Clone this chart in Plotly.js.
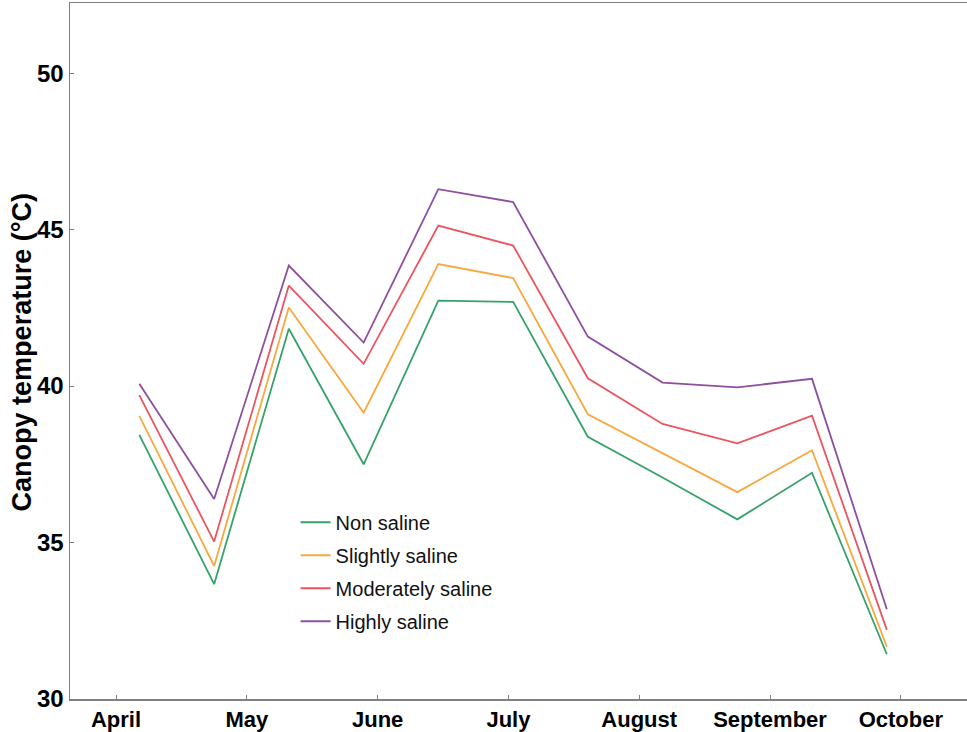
<!DOCTYPE html>
<html>
<head>
<meta charset="utf-8">
<script src="https://cdn.plot.ly/plotly-3.0.1.min.js"></script>
<style>html,body{margin:0;padding:0;background:#fff;}#chart{width:967px;height:732px;}</style>
</head>
<body>
<div id="chart"></div>
<script>
// Observation times, in months after the start of April
const obsMonths = [0.178, 0.750, 1.321, 1.893, 2.464, 3.036, 3.607, 4.178, 4.750, 5.321, 5.893];
const monthTicks = [0, 1, 2, 3, 4, 5, 6];
const monthLabels = ["April", "May", "June", "July", "August", "September", "October"];
const seriesNames = ["Non saline", "Slightly saline", "Moderately saline", "Highly saline"];
const nonSaline = [38.44, 33.67, 41.83, 37.50, 42.73, 42.69, 38.38, 37.08, 35.74, 37.23, 31.43];
const slightlySaline = [39.05, 34.25, 42.51, 39.15, 43.90, 43.45, 39.10, 37.85, 36.61, 37.95, 31.67];
const moderatelySaline = [39.71, 35.03, 43.21, 40.71, 45.13, 44.49, 40.25, 38.79, 38.17, 39.05, 32.21];
const highlySaline = [40.07, 36.39, 43.85, 41.39, 46.29, 45.88, 41.58, 40.11, 39.96, 40.23, 32.87];
const yTicks = [30, 35, 40, 45, 50];
const yTitle = "Canopy temperature (°C)";

const colors = ["#36a26a", "#f8a83f", "#ec5560", "#8f4f9f"];
const allSeries = [nonSaline, slightlySaline, moderatelySaline, highlySaline];

const traces = allSeries.map((vals, i) => ({
  x: obsMonths,
  y: vals,
  type: "scatter",
  mode: "lines",
  name: seriesNames[i],
  legendgroup: "g" + i,
  line: {color: colors[i], width: 1.8}
}));

const FONT = "Arial, 'Liberation Sans', sans-serif";

const layout = {
  width: 967,
  height: 732,
  margin: {l: 70, r: 0, t: 3, b: 33, pad: 0},
  paper_bgcolor: "#ffffff",
  plot_bgcolor: "#ffffff",
  showlegend: true,
  legend: {
    x: 0.2515, y: 0.282, xanchor: "left", yanchor: "top",
    bgcolor: "rgba(0,0,0,0)",
    font: {family: FONT, size: 20, color: "#111"},
    traceorder: "grouped",
    tracegroupgap: 4,
    itemwidth: 30
  },
  xaxis: {
    range: [-0.352, 6.506],
    tickmode: "array",
    tickvals: monthTicks,
    ticktext: monthLabels,
    ticks: "inside",
    ticklen: 4,
    tickcolor: "#808080",
    tickwidth: 1,
    showline: true,
    linecolor: "#808080",
    linewidth: 1.5,
    mirror: true,
    showgrid: false,
    zeroline: false,
    tickfont: {family: FONT, size: 22, color: "#000", weight: "bold"}
  },
  yaxis: {
    range: [30, 52.24],
    tickmode: "array",
    tickvals: yTicks,
    ticks: "inside",
    ticklen: 4,
    tickcolor: "#808080",
    tickwidth: 1,
    showline: true,
    linecolor: "#808080",
    linewidth: 1.5,
    showgrid: false,
    zeroline: false,
    tickfont: {family: FONT, size: 24, color: "#000", weight: "bold"}
  },
  annotations: [{
    text: "<b>" + yTitle + "</b>",
    xref: "paper", yref: "paper",
    x: -0.0535, y: 0.498,
    xanchor: "center", yanchor: "middle",
    textangle: -90,
    showarrow: false,
    font: {family: FONT, size: 27, color: "#000"}
  }]
};

Plotly.newPlot("chart", traces, layout, {displayModeBar: false, staticPlot: true});
</script>
</body>
</html>
